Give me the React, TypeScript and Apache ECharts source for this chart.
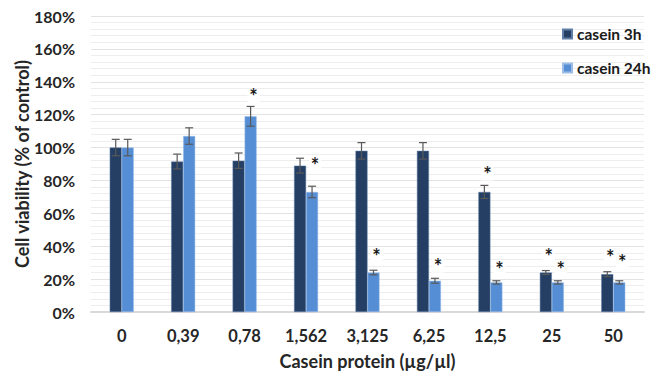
import React, { useEffect, useRef } from "react";
import * as echarts from "echarts";

const categories = ["0", "0,39", "0,78", "1,562", "3,125", "6,25", "12,5", "25", "50"];
const casein3h = [100, 91.5, 92, 89, 98, 98, 73, 24, 23];
const casein24h = [100, 107, 119, 73, 24, 19, 18, 18, 18];
const err3h = [5, 4.5, 4.7, 4.5, 5, 5, 4, 1.2, 1.5];
const err24h = [5, 5, 6, 3.5, 1.4, 1.5, 1, 1, 1];
// height (in % of control) where the significance asterisk sits; null = none
const star3h: (number | null)[] = [null, null, null, null, null, null, 86, 36, 35];
const star24h: (number | null)[] = [null, null, 133, 91, 36, 30, 28, 28, 32];
const yTicks = [0, 20, 40, 60, 80, 100, 120, 140, 160, 180];

const DARK = "#243f63";
const LIGHT = "#558ed5";
const FONT = "Lato, 'Open Sans', sans-serif";
const BAR_W = 12;

export default function App() {
  const ref = useRef<HTMLDivElement>(null);

  useEffect(() => {
    if (!ref.current) return;
    const chart = echarts.init(ref.current, undefined, { renderer: "svg" });

    const errorSeries = (vals: number[], errs: number[], side: number) => ({
      type: "custom",
      silent: true,
      z: 5,
      data: vals.map((v, i) => [i, v, errs[i]]),
      renderItem: (_params: any, api: any) => {
        const i = api.value(0);
        const v = api.value(1);
        const e = api.value(2);
        const top = api.coord([i, v + e]);
        const bot = api.coord([i, v - e]);
        const x = top[0] + side * (BAR_W / 2);
        const style = { stroke: "#595959", lineWidth: 1.2 };
        return {
          type: "group",
          children: [
            { type: "line", shape: { x1: x, y1: top[1], x2: x, y2: bot[1] }, style },
            { type: "line", shape: { x1: x - 4, y1: top[1], x2: x + 4, y2: top[1] }, style },
            { type: "line", shape: { x1: x - 4, y1: bot[1], x2: x + 4, y2: bot[1] }, style },
          ],
        };
      },
    });

    const starSeries = (stars: (number | null)[], side: number) => ({
      type: "custom",
      silent: true,
      z: 6,
      data: stars
        .map((s, i) => (s == null ? null : [i, s]))
        .filter((d) => d !== null),
      renderItem: (_params: any, api: any) => {
        const p = api.coord([api.value(0), api.value(1)]);
        return {
          type: "text",
          style: {
            text: "*",
            x: p[0] + side * (BAR_W / 2) + 3,
            y: p[1] + 3,
            align: "center",
            verticalAlign: "middle",
            font: `bold 20px ${FONT}`,
            fill: "#1a1a1a",
            backgroundColor: "#ffffff",
            padding: [0, 2, -6, 2],
          },
        };
      },
    });

    const tickFont = { fontSize: 16, fontWeight: "bold", color: "#262626", fontFamily: FONT };
    const titleFont = { fontSize: 18, fontWeight: "bold", color: "#262626", fontFamily: FONT };

    chart.setOption({
      animation: false,
      textStyle: { fontFamily: FONT },
      grid: { left: 91, right: 11, top: 16, bottom: 66 },
      legend: {
        orient: "vertical",
        left: 562,
        top: 26,
        padding: 0,
        itemWidth: 9,
        itemHeight: 9,
        itemGap: 18,
        icon: "rect",
        textStyle: { fontSize: 15.5, lineHeight: 16, fontWeight: "bold", color: "#1a1a1a", fontFamily: FONT },
        data: ["casein 3h", "casein 24h"],
      },
      xAxis: {
        type: "category",
        data: categories,
        axisTick: { show: false },
        axisLine: { lineStyle: { color: "#d9d9d9", width: 2 } },
        axisLabel: { ...tickFont, fontSize: 16.5, margin: 15 },
        name: "Casein protein (µg/µl)",
        nameLocation: "middle",
        nameGap: 40,
        nameMoveOverlap: false,
        nameTextStyle: titleFont,
      },
      yAxis: {
        type: "value",
        min: yTicks[0],
        max: yTicks[yTicks.length - 1],
        interval: yTicks[1] - yTicks[0],
        axisLine: { show: false },
        axisTick: { show: false },
        axisLabel: { ...tickFont, margin: 16, formatter: "{value}%" },
        splitLine: { lineStyle: { color: "#e3e3e3", width: 1 } },
        minorTick: { show: false, splitNumber: 5 },
        minorSplitLine: { show: true, lineStyle: { color: "#eeeeee", width: 1 } },
        name: "Cell viability (% of control)",
        nameLocation: "middle",
        nameGap: 60,
        nameRotate: 90,
        nameMoveOverlap: false,
        nameTextStyle: titleFont,
      },
      series: [
        {
          name: "casein 3h",
          type: "bar",
          data: casein3h,
          barWidth: BAR_W,
          barGap: "0%",
          itemStyle: { color: DARK, borderColor: "#5f7ea8", borderWidth: 0.5 },
        },
        {
          name: "casein 24h",
          type: "bar",
          data: casein24h,
          barWidth: BAR_W,
          barGap: "0%",
          itemStyle: { color: LIGHT, borderColor: "#9dbde6", borderWidth: 0.5 },
        },
        errorSeries(casein3h, err3h, -1),
        errorSeries(casein24h, err24h, 1),
        starSeries(star3h, -1),
        starSeries(star24h, 1),
      ],
    });

    return () => chart.dispose();
  }, []);

  return (
    <div
      ref={ref}
      style={{ position: "fixed", left: 0, top: 0, width: 655, height: 378, background: "#fff" }}
    />
  );
}
